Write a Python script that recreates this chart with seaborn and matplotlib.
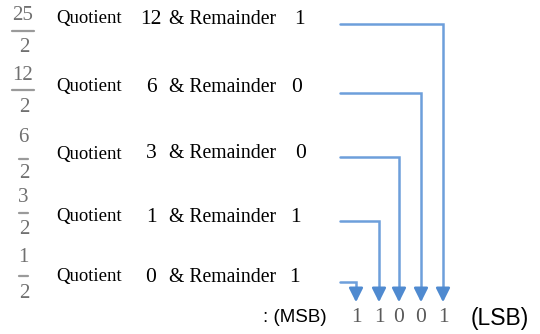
import matplotlib
matplotlib.use("Agg")
import matplotlib.pyplot as plt
import seaborn as sns

# division steps: value / 2 -> quotient, remainder
dividends  = [25, 12, 6, 3, 1]
divisor    = 2
quotients  = [12, 6, 3, 1, 0]
remainders = [1, 0, 0, 1, 1]
result_bits = [1, 1, 0, 0, 1]   # read bottom-up: MSB ... LSB

sns.set_theme(style="white")
SERIF = ['Liberation Serif', 'DejaVu Serif']
SANS = ['Liberation Sans', 'DejaVu Sans']
plt.rcParams['font.family'] = SERIF

fig = plt.figure(figsize=(5.4, 3.34), dpi=100)
ax = fig.add_axes([0, 0, 1, 1])
ax.set_xlim(0, 540)
ax.set_ylim(334, 0)
ax.axis('off')

# layout (pixel space)
row_y   = [19, 87, 154, 217, 277]
num_y   = [15, 75, 138, 198, 258]
den_y   = [47, 107, 174, 230, 293]
bar_y   = [31, 90, 159, 213, 276]
line_y  = [24, 93, 157, 221, 282]
bit_x   = [356, 379, 399, 421, 443]
rem_x   = [299, 297, 301, 295, 294]
line_x0 = 340
blue    = '#6d9fdb'
head    = '#4f8ad0'
grey    = '#707070'
txt     = '#000000'

for i, d in enumerate(dividends):
    ax.text(23, num_y[i], str(d), ha='center', va='center', fontsize=15,
            color=grey, family=SERIF)
    w = 11 if d >= 10 else 4.5
    ax.plot([23 - w, 23 + w], [bar_y[i], bar_y[i]], color='#9a9a9a', lw=1.6)
    ax.text(24, den_y[i], str(divisor), ha='center', va='center', fontsize=15,
            color=grey, family=SERIF)

    ax.text(56, row_y[i], 'Quotient', ha='left', va='center', fontsize=13.5,
            color=txt, family=SERIF)
    ax.text(151, row_y[i], str(quotients[i]), ha='center', va='center',
            fontsize=15.5, color=txt, family=SERIF)
    ax.text(169, row_y[i], '& Remainder', ha='left', va='center', fontsize=14.2,
            color=txt, family=SERIF)
    ax.text(rem_x[i], row_y[i], str(remainders[i]), ha='center', va='center',
            fontsize=15.5, color=txt, family=SERIF)

    # connector: horizontal then down to the bit position
    xb = bit_x[len(dividends) - 1 - i]
    ax.plot([line_x0, xb, xb], [line_y[i], line_y[i], 292], color=blue, lw=1.8,
            solid_joinstyle='miter')
    ax.annotate('', xy=(xb, 305), xytext=(xb, 290),
                arrowprops=dict(arrowstyle='-|>,head_width=0.35,head_length=0.7',
                                color=head, lw=1.8))

for x, b in zip(bit_x, result_bits):
    ax.text(x, 318, str(b), ha='center', va='center', fontsize=15.5,
            color='#5a5a5a', family=SERIF)

ax.text(327, 318, ': (MSB)', ha='right', va='center', fontsize=13.5, color=txt,
        family=SANS)
ax.text(471, 318, '(LSB)', ha='left', va='center', fontsize=16.5, color=txt,
        family=SANS)

fig.savefig('out.png', dpi=100)
